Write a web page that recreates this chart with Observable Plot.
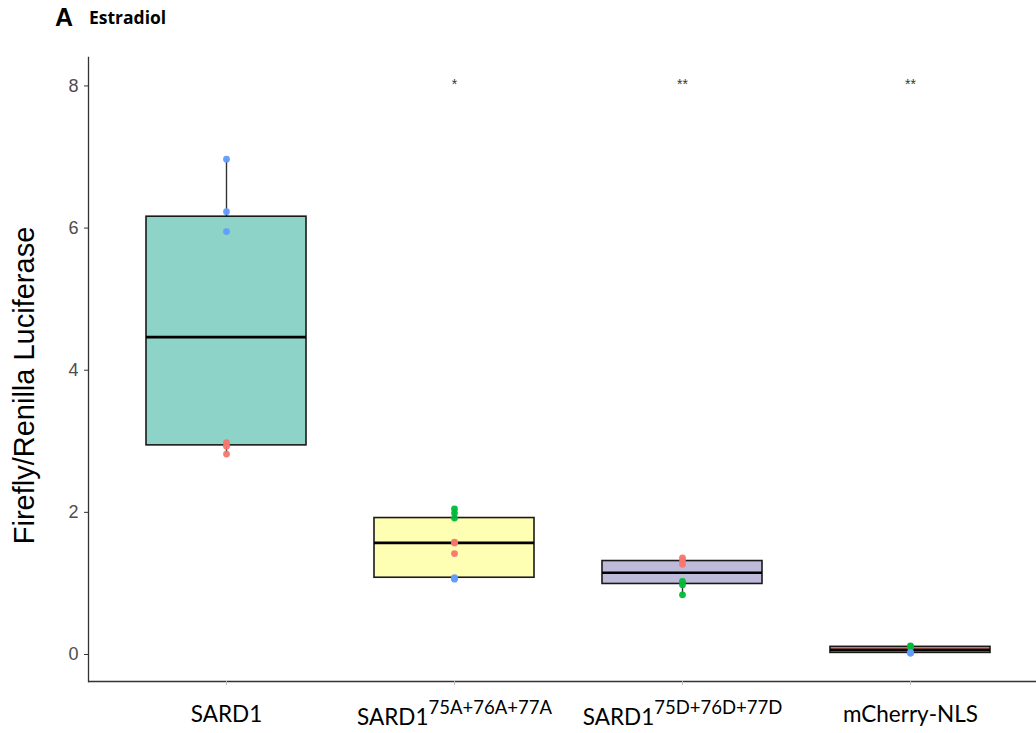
<!DOCTYPE html>
<html>
<head>
<meta charset="utf-8">
<script src="https://cdn.jsdelivr.net/npm/d3@7"></script>
<script src="https://cdn.jsdelivr.net/npm/@observablehq/plot@0.6"></script>
<style>
  body { margin: 0; background: #fff; }
  #figure { width: 1036px; }
  .header { position: relative; height: 40px; }
  .panel { position: absolute; left: 55px; top: 3px; font: bold 25px "Liberation Sans", Arial, sans-serif; color: #000; }
  .treat { position: absolute; left: 89px; top: 5px; font: bold 17.5px "Open Sans", Lato, sans-serif; color: #000; }
</style>
</head>
<body>
<div id="figure">
  <div class="header"><span class="panel">A</span><span class="treat">Estradiol</span></div>
</div>
<script>
// Constructs tested in the dual-luciferase assay (estradiol induction)
const constructs = ["SARD1", "SARD1 75A", "SARD1 75D", "mCherry-NLS"];
const labelBase = ["SARD1", "SARD1", "SARD1", "mCherry-NLS"];
const labelSup = ["", "75A+76A+77A", "75D+76D+77D", ""];
const boxFills = ["#8DD3C7", "#FFFFB3", "#BEBADA", "#FB8072"];

// Individual Firefly/Renilla ratios, coloured by experimental run
const pointConstruct = [
  "SARD1", "SARD1", "SARD1", "SARD1", "SARD1", "SARD1",
  "SARD1 75A", "SARD1 75A", "SARD1 75A", "SARD1 75A", "SARD1 75A", "SARD1 75A", "SARD1 75A", "SARD1 75A", "SARD1 75A",
  "SARD1 75D", "SARD1 75D", "SARD1 75D", "SARD1 75D", "SARD1 75D", "SARD1 75D",
  "mCherry-NLS", "mCherry-NLS", "mCherry-NLS", "mCherry-NLS", "mCherry-NLS", "mCherry-NLS"
];
const pointValue = [
  6.97, 6.23, 5.95, 2.98, 2.93, 2.82,
  2.05, 1.99, 1.92, 1.58, 1.57, 1.42, 1.08, 1.07, 1.06,
  1.36, 1.33, 1.27, 1.03, 0.98, 0.84,
  0.12, 0.11, 0.10, 0.03, 0.02, 0.02
];
const pointRun = [
  "run3", "run3", "run3", "run1", "run1", "run1",
  "run2", "run2", "run2", "run1", "run1", "run1", "run3", "run3", "run3",
  "run1", "run1", "run1", "run2", "run2", "run2",
  "run2", "run2", "run2", "run3", "run3", "run3"
];
const runNames = ["run1", "run2", "run3"];
const runColors = ["#F8766D", "#00BA38", "#619CFF"];

// Significance versus SARD1
const sigConstruct = ["SARD1 75A", "SARD1 75D", "mCherry-NLS"];
const sigLabel = ["*", "**", "**"];
const sigValue = [8, 8, 8];

const yTicks = [0, 2, 4, 6, 8];
const yDomain = [-0.38, 8.4];
const yTitle = "Firefly/Renilla Luciferase";

const points = pointConstruct.map((c, i) => ({construct: c, value: pointValue[i], run: pointRun[i]}));
const sig = sigConstruct.map((c, i) => ({construct: c, label: sigLabel[i], value: sigValue[i]}));

const fillOf = c => boxFills[constructs.indexOf(c)];
const runColorOf = r => runColors[runNames.indexOf(r)];

const quant = p => v => d3.quantile(v, p);
function whiskers(v) {
  const q1 = d3.quantile(v, 0.25), q3 = d3.quantile(v, 0.75), r = 1.5 * (q3 - q1);
  return [d3.min(v, x => x >= q1 - r ? x : NaN), d3.max(v, x => x <= q3 + r ? x : NaN)];
}
const loWhisker = v => whiskers(v)[0];
const hiWhisker = v => whiskers(v)[1];

const plot = Plot.plot({
  width: 1036,
  height: 693,
  marginTop: 17,
  marginBottom: 52,
  marginLeft: 88,
  marginRight: 0,
  style: {background: "#fff", overflow: "visible"},
  x: {domain: constructs, range: [88, 1047], paddingInner: 0.3, paddingOuter: 0.25, align: 0.5, label: null},
  y: {domain: yDomain, label: null},
  color: {type: "identity"},
  marks: [
    // whiskers
    Plot.ruleX(points, Plot.groupX(
      {y1: loWhisker, y2: hiWhisker},
      {x: "construct", y1: "value", y2: "value", stroke: "#333", strokeWidth: 1.4}
    )),
    // interquartile boxes
    Plot.barY(points, Plot.groupX(
      {y1: quant(0.25), y2: quant(0.75)},
      {x: "construct", y1: "value", y2: "value", fill: d => fillOf(d.construct), stroke: "#1a1a1a", strokeWidth: 1.6}
    )),
    // medians
    Plot.tickY(points, Plot.groupX(
      {y: "median"},
      {x: "construct", y: "value", stroke: "#000", strokeWidth: 2.6}
    )),
    // individual measurements
    Plot.dot(points, {x: "construct", y: "value", fill: d => runColorOf(d.run), r: 3.4, fillOpacity: 0.95}),
    // significance marks
    Plot.text(sig, {x: "construct", y: "value", text: "label", fontSize: 14, fill: "#333", dy: -1,
      fontFamily: "Liberation Sans, Arial, sans-serif"}),
    // axes
    Plot.ruleY([yDomain[0]], {stroke: "#333", strokeWidth: 1.3}),
    Plot.frame({anchor: "left", stroke: "#333", strokeWidth: 1.3}),
    Plot.axisY({ticks: yTicks, tickSize: 4, tickPadding: 6, fontSize: 18, color: "#4D4D4D", stroke: "#333",
      fontFamily: "Liberation Sans, Arial, sans-serif", label: null}),
    Plot.axisX({tickSize: 4, tickFormat: () => "", stroke: "#bbb", label: null}),
    Plot.axisX({tickSize: 0, tickPadding: 25, fontSize: 22.5, fill: "#000", fontFamily: "Lato, sans-serif",
      label: null}),
    Plot.text([yTitle], {frameAnchor: "left", rotate: -90, textAnchor: "middle", dx: -64, dy: 16,
      fontSize: 29, fill: "#000", fontFamily: "Liberation Sans, Arial, sans-serif"})
  ]
});

// Category labels with superscript mutation tags
d3.select(plot).selectAll("text").each(function () {
  const i = constructs.indexOf(this.textContent);
  if (i < 0) return;
  const t = d3.select(this).text(null);
  if (labelSup[i]) {
    t.append("tspan").attr("dy", "3").text(labelBase[i]);
    t.append("tspan").attr("dy", "-11").attr("font-size", "18.5").text(labelSup[i]);
  } else {
    t.append("tspan").text(labelBase[i]);
  }
});

document.getElementById("figure").appendChild(plot);
</script>
</body>
</html>
